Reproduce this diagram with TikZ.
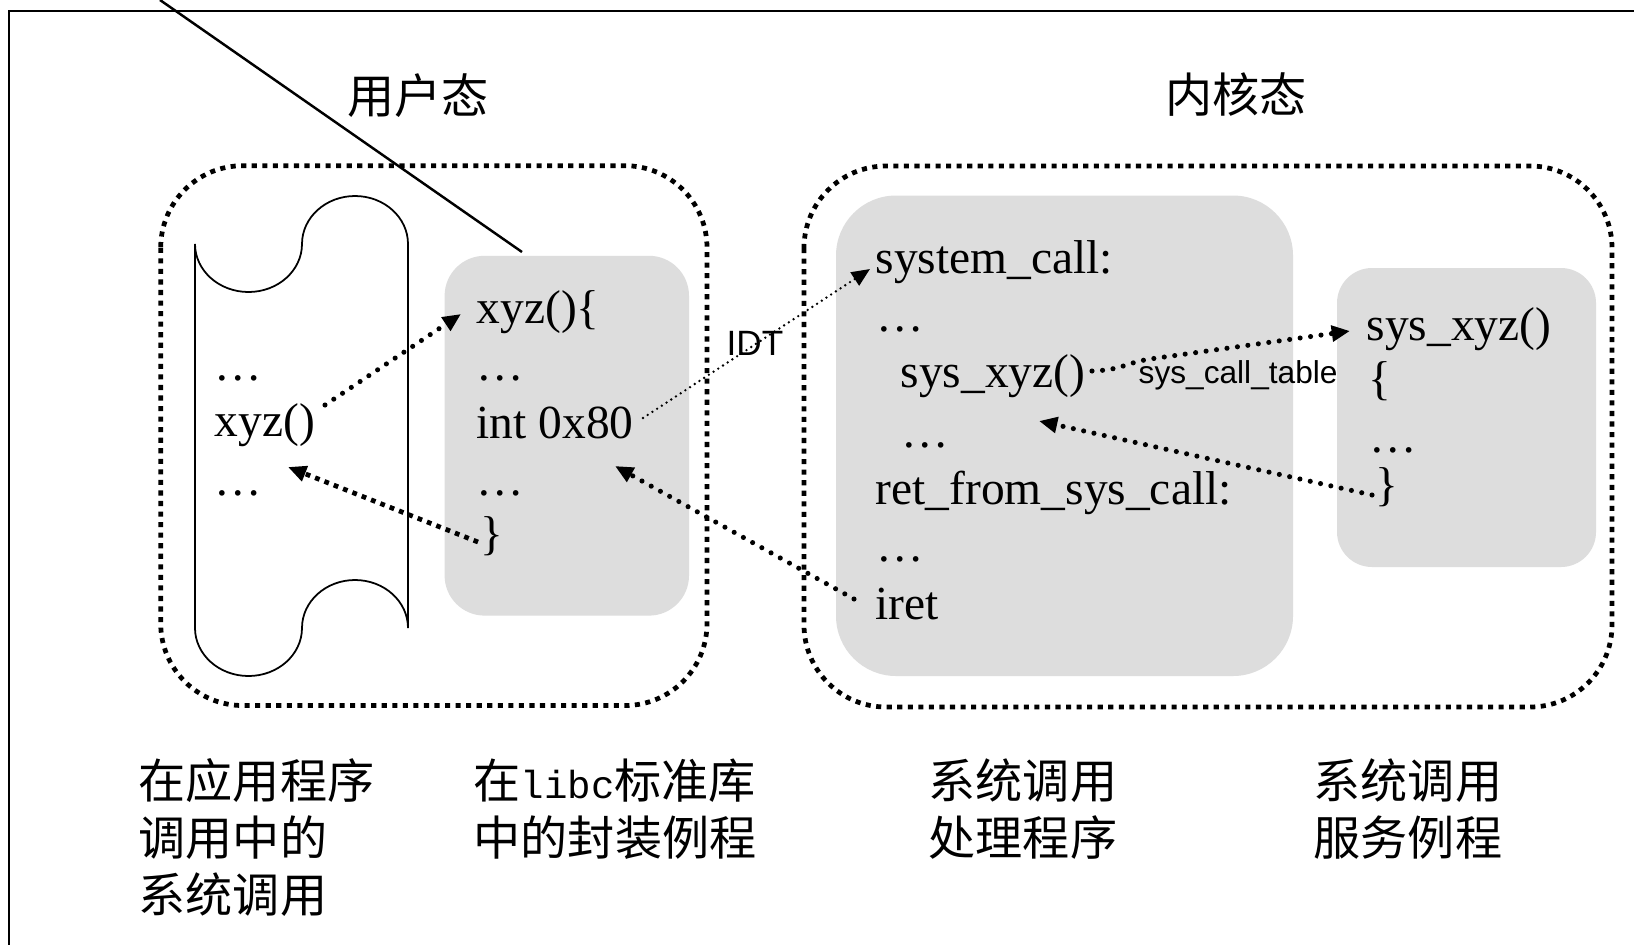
\documentclass[tikz,border=0pt]{standalone}
\usepackage{fontspec}
\setmainfont{Liberation Serif}
\newfontfamily\cjk{Noto Sans CJK SC}
\newfontfamily\arialf{Liberation Sans}
\newfontfamily\monof[Scale=0.83]{Liberation Mono}
\usetikzlibrary{arrows.meta}
\definecolor{boxgray}{RGB}{221,221,221}
\begin{document}
\begin{tikzpicture}[x=0.01cm,y=-0.01cm,
  code/.style={anchor=base west, inner sep=0pt, font=\fontsize{13.5}{16}\selectfont},
  cjklabel/.style={inner sep=0pt, font=\cjk\fontsize{13.4}{16.2}\selectfont, align=left},
  sanslabel/.style={anchor=base west, inner sep=0pt, font=\arialf\fontsize{#1}{12}\selectfont},
  region/.style={draw, line width=1.35pt, dash pattern=on 1.45pt off 1.55pt, rounded corners=0.82cm},
  tip/.style={-{Triangle[length=5.2pt,width=4.4pt]}},
  dotarrow/.style={tip, line width=1.45pt, line cap=round, dash pattern=on 0pt off 3pt},
  sqarrow/.style={tip, line width=1.35pt, dash pattern=on 1.35pt off 1.5pt},
  thinarrow/.style={tip, line width=0.75pt, line cap=round, dash pattern=on 0pt off 1.6pt},
]
\useasboundingbox (0,0) rectangle (1634,945);
\fill[white] (0,0) rectangle (1634,945);

% frame
\draw[line width=0.6pt] (1634,11) -- (9,11) -- (9,945);

% gray boxes
\fill[boxgray, rounded corners=0.4cm] (444.6,255.8) rectangle (689,615.6);
\fill[boxgray, rounded corners=0.6cm] (836,195.5) rectangle (1293,676);
\fill[boxgray, rounded corners=0.35cm] (1337,268) rectangle (1596,567);

% dotted regions
\draw[region] (160.7,165.7) rectangle (707,705.5);
\draw[region] (804,166) rectangle (1612,707);

% scroll
\draw[line width=0.5pt]
  (195,244) .. controls (195,270.5) and (219,292) .. (248.5,292)
            .. controls (278,292) and (302,270.5) .. (302,244)
            .. controls (302,217.5) and (325.7,196) .. (355,196)
            .. controls (384.3,196) and (408,217.5) .. (408,244)
  -- (408,628)
            .. controls (408,601.5) and (384.3,580) .. (355,580)
            .. controls (325.7,580) and (302,601.5) .. (302,628)
            .. controls (302,654.5) and (278,676) .. (248.5,676)
            .. controls (219,676) and (195,654.5) .. (195,628)
  -- cycle;

% diagonal line
\draw[line width=0.7pt] (160,0) -- (522,252);

% titles
\node[cjklabel] (user) at (418,96) {用户态};
\node[cjklabel] (kernel) at (1236,95) {内核态};

% application scroll text
\node[code] (appdots1) at (214,380) {…};
\node[code] (xyzcall) at (214,436) {xyz()};
\node[code] (appdots2) at (214,495) {…};

% libc wrapper
\node[code] (xyzdef) at (476,323) {xyz()\{};
\node[code] (libdots1) at (476,380) {…};
\node[code] (int80) at (476,438) {int 0x80};
\node[code] (libdots2) at (476,495) {…};
\node[code] (libend) at (480,549) {\}};

% system call handler
\node[code] (syscall) at (875,273) {system\_call:};
\node[code] (kdots1) at (876,331) {…};
\node[code] (ksysxyz) at (900,387) {sys\_xyz()};
\node[code] (kdots2) at (901,447) {…};
\node[code] (retfrom) at (875,504) {ret\_from\_sys\_call:};
\node[code] (kdots3) at (876,561) {…};
\node[code] (iret) at (875,619) {iret};

% service routine
\node[code] (ssysxyz) at (1366,340) {sys\_xyz()};
\node[code] (sopen) at (1368,394) {\{};
\node[code] (sdots) at (1369,452) {…};
\node[code] (sclose) at (1375,500) {\}};

% connector labels
\node[sanslabel=10] (idt) at (726,355) {IDT};
\node[sanslabel=9] (sct) at (1138,383) {sys\_call\_table};

% bottom labels
\node[cjklabel, anchor=north west] (lab1) at (138,758) {在应用程序\\调用中的\\系统调用};
\node[cjklabel, anchor=north west] (lab2) at (473,758) {在{\monof libc}标准库\\中的封装例程};
\node[cjklabel, anchor=north west] (lab3) at (928,758) {系统调用\\处理程序};
\node[cjklabel, anchor=north west] (lab4) at (1313,758) {系统调用\\服务例程};

% arrow end points
\coordinate (a1s) at (325,405);
\coordinate (a1e) at (461,314);
\coordinate (a2s) at (478,542);
\coordinate (a2e) at (288,467);
\coordinate (a3s) at (643,418);
\coordinate (a3e) at (870,269);
\coordinate (a4s) at (854,599);
\coordinate (a4e) at (615,466);
\coordinate (a5s) at (1092,371);
\coordinate (a5m) at (1150,359);
\coordinate (a5e) at (1350,331);
\coordinate (a6s) at (1372,495);
\coordinate (a6e) at (1039,421);

\draw[dotarrow] (a1s) -- (a1e);
\draw[sqarrow] (a2s) -- (a2e);
\draw[thinarrow] (a3s) -- (a3e);
\draw[dotarrow] (a4s) -- (a4e);
\draw[dotarrow] (a5s) .. controls (1122,370) and (1125,363) .. (a5m) -- (a5e);
\draw[dotarrow] (a6s) -- (a6e);
\end{tikzpicture}
\end{document}
